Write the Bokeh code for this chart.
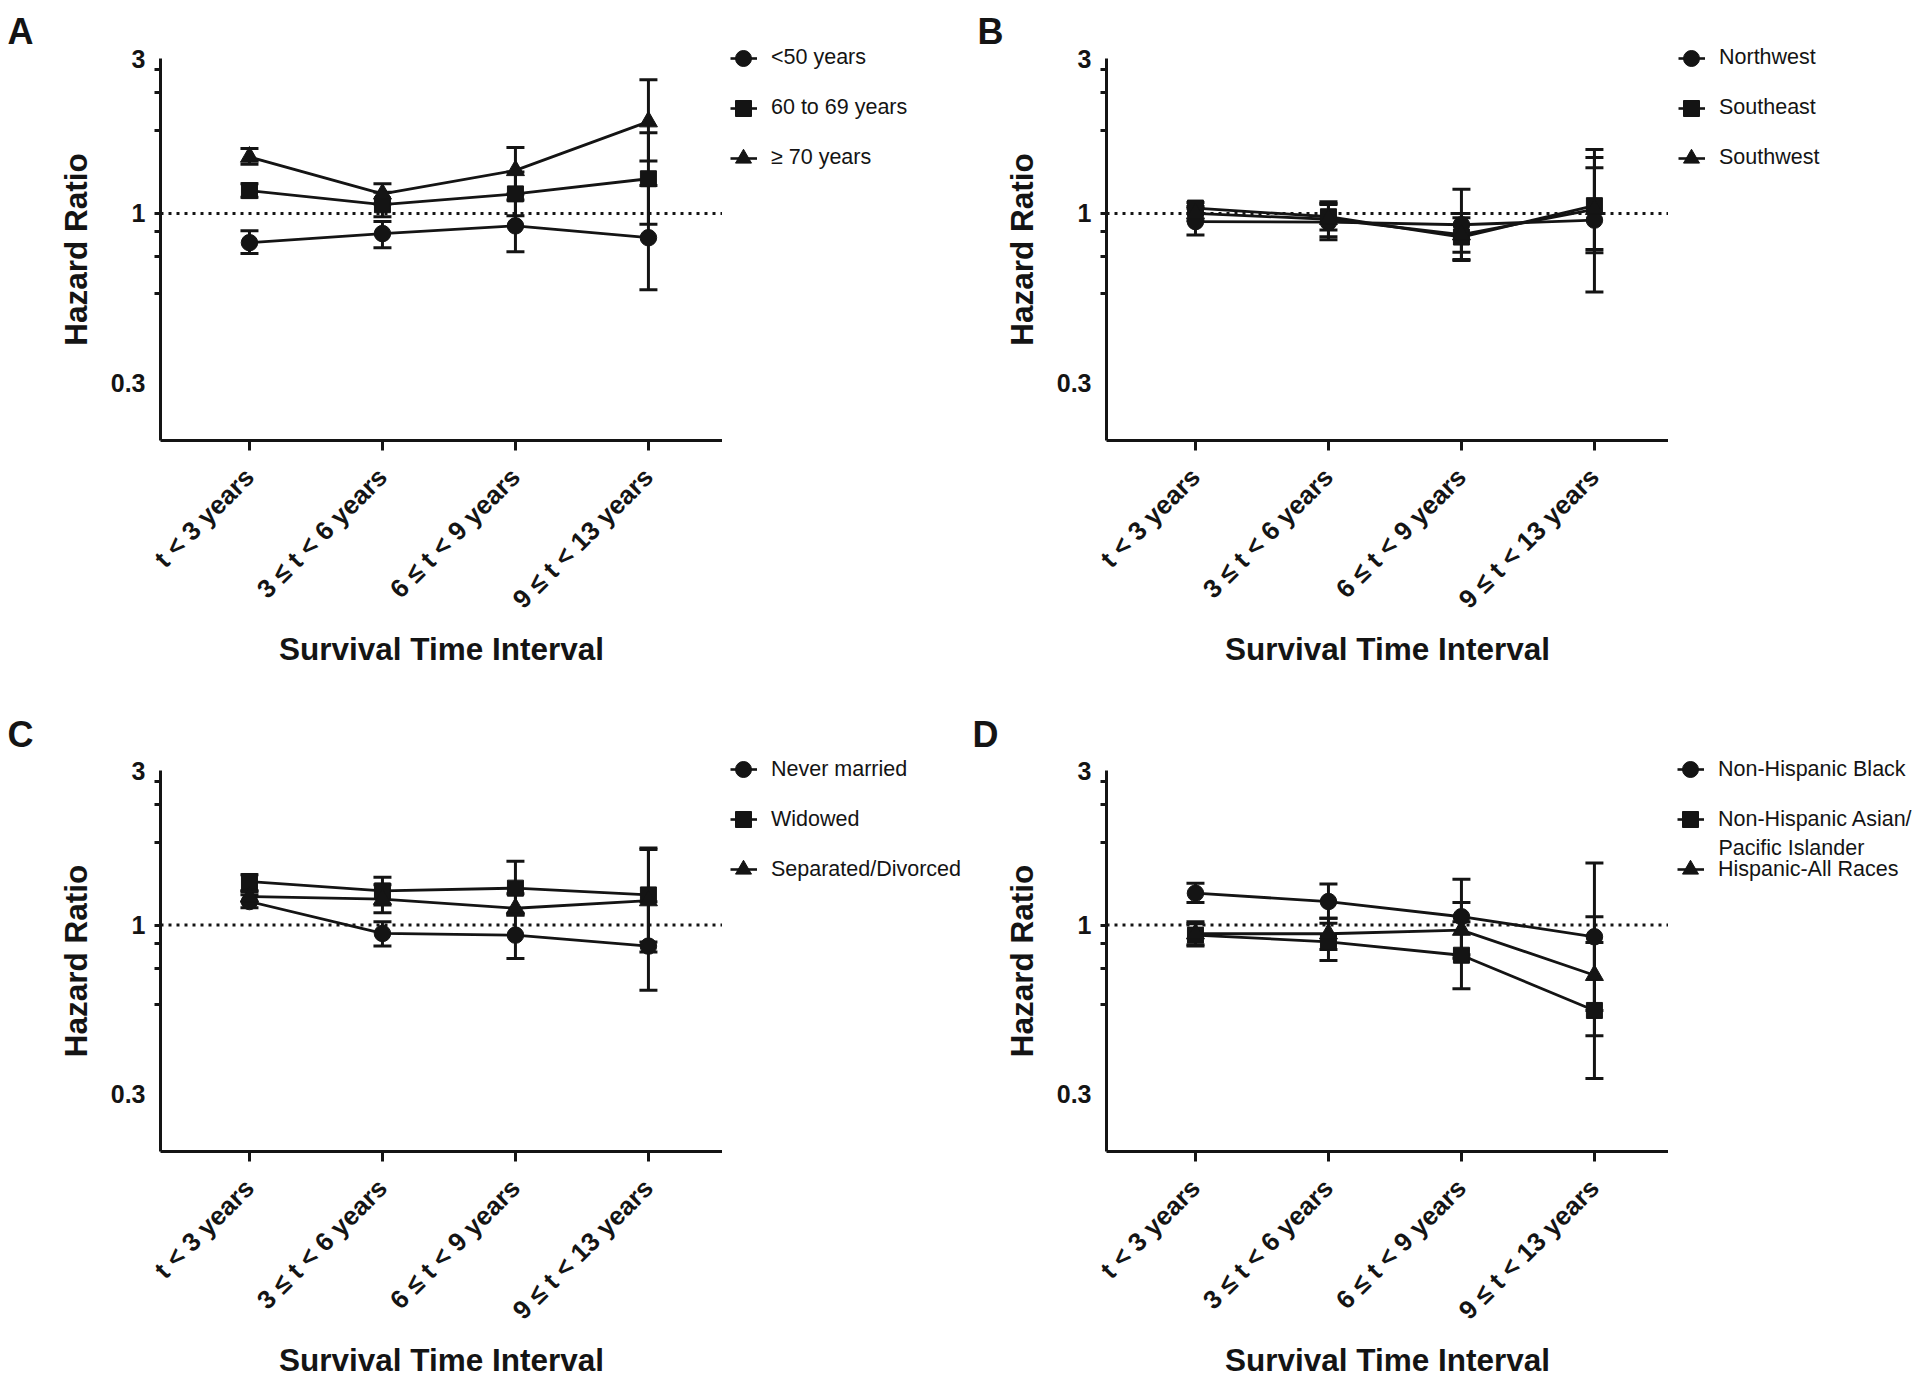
import math
from bokeh.plotting import figure
from bokeh.models import (Range1d, FixedTicker, Whisker, TeeHead, ColumnDataSource,
                          Span, Legend, LegendItem, Label, Title)
from bokeh.layouts import row, column
from bokeh.embed import file_html
from bokeh.resources import INLINE

# ---------------- data ----------------
intervals = ["t < 3 years", "3 \u2264 t < 6 years", "6 \u2264 t < 9 years", "9 \u2264 t < 13 years"]
interval_pos = [1, 2, 3, 4]

y_tick_values = [0.3, 1, 3]
y_tick_labels = ["0.3", "1", "3"]
y_minor_ticks = [0.567, 0.737, 0.88, 1, 1.8, 2.36, 2.78]

# Panel A: age
age_groups = ["<50 years", "60 to 69 years", "\u2265 70 years"]
age_lt50_hr = [0.813, 0.867, 0.916, 0.842]
age_lt50_lo = [0.753, 0.784, 0.762, 0.582]
age_lt50_hi = [0.884, 0.944, 1.100, 1.220]
age_60_69_hr = [1.176, 1.064, 1.149, 1.279]
age_60_69_lo = [1.121, 0.977, 0.984, 0.927]
age_60_69_hi = [1.234, 1.162, 1.341, 1.772]
age_ge70_hr = [1.493, 1.149, 1.357, 1.917]
age_ge70_lo = [1.417, 1.069, 1.149, 1.450]
age_ge70_hi = [1.585, 1.234, 1.596, 2.580]

# Panel B: region
regions = ["Northwest", "Southeast", "Southwest"]
nw_hr = [0.944, 0.940, 0.923, 0.954]
nw_lo = [0.859, 0.830, 0.722, 0.573]
nw_hi = [1.037, 1.065, 1.187, 1.573]
se_hr = [1.039, 0.977, 0.846, 1.057]
se_lo = [1.000, 0.890, 0.716, 0.757]
se_hi = [1.080, 1.074, 1.000, 1.486]
sw_hr = [1.000, 0.960, 0.860, 1.030]
sw_lo = [0.950, 0.848, 0.760, 0.775]
sw_hi = [1.050, 1.087, 0.970, 1.384]

# Panel C: marital status
marital = ["Never married", "Widowed", "Separated/Divorced"]
never_hr = [1.182, 0.942, 0.931, 0.861]
never_lo = [1.130, 0.861, 0.788, 0.629]
never_hi = [1.240, 1.024, 1.087, 1.180]
widow_hr = [1.363, 1.275, 1.300, 1.239]
widow_lo = [1.278, 1.154, 1.074, 0.887]
widow_hi = [1.430, 1.406, 1.573, 1.730]
sepdiv_hr = [1.224, 1.202, 1.127, 1.190]
sepdiv_lo = [1.180, 1.092, 1.074, 0.826]
sepdiv_hi = [1.270, 1.331, 1.250, 1.710]

# Panel D: race / ethnicity
races = ["Non-Hispanic Black", "Non-Hispanic Asian/", "Hispanic-All Races"]
race_second_line = "Pacific Islander"
black_hr = [1.254, 1.182, 1.061, 0.920]
black_lo = [1.173, 1.049, 0.810, 0.545]
black_hi = [1.347, 1.338, 1.386, 1.554]
asian_hr = [0.931, 0.888, 0.807, 0.545]
asian_lo = [0.861, 0.778, 0.636, 0.336]
asian_hi = [1.024, 1.013, 1.024, 0.884]
hisp_hr = [0.940, 0.940, 0.965, 0.700]
hisp_lo = [0.870, 0.840, 0.790, 0.455]
hisp_hi = [1.010, 1.049, 1.173, 1.061]

# ---------------- style ----------------
FONT = "Liberation Sans"
INK = "#141414"
MARKERS = [("circle", 16.5), ("square", 16), ("triangle", 18)]


def legend_fig(names, width, mcx, row1_from_top, extra_line=None, extra_y=None):
    f = figure(width=width, height=690, x_range=Range1d(10, 11), y_range=Range1d(10, 11),
               output_backend="svg", toolbar_location=None, min_border=0,
               x_axis_location=None, y_axis_location=None)
    f.xgrid.visible = False
    f.ygrid.visible = False
    f.outline_line_color = None
    # legend-only renderers (their single point lies outside the visible range)
    lines = [f.line(x=[0, 0.5], y=[0, 0], line_color=INK, line_width=2.6) for _ in names]
    marks = [f.scatter(x=[0], y=[0], marker=mk, size=sz, fill_color=INK, line_color=INK)
             for mk, sz in MARKERS]
    loc_y = 690 - row1_from_top - 120
    common = dict(padding=0, margin=0, spacing=10, glyph_height=40, label_height=40,
                  background_fill_alpha=0, border_line_alpha=0,
                  label_text_font=FONT, label_text_font_size="21.5px",
                  label_text_color=INK)
    f.add_layout(Legend(items=[LegendItem(label=" ", renderers=[r]) for r in lines],
                        location=(mcx - 13.5, loc_y), glyph_width=27, label_standoff=0,
                        **common))
    f.add_layout(Legend(items=[LegendItem(label=n, renderers=[m]) for n, m in zip(names, marks)],
                        location=(mcx - 20, loc_y), glyph_width=40, label_standoff=8,
                        **common))
    if extra_line:
        f.add_layout(Label(x=mcx + 28, y=extra_y, x_units="screen", y_units="screen",
                           text=extra_line, text_font=FONT, text_font_size="21.5px",
                           text_color=INK, text_baseline="middle"))
    return f


def make_panel(letter, series, width, left, top, bottom, letter_offset, letter_standoff,
               xlab_standoff):
    p = figure(width=width, height=690, y_axis_type="log",
               x_range=Range1d(0.331, 4.557), y_range=Range1d(0.2, 3.0),
               output_backend="svg", toolbar_location=None,
               min_border_left=left, min_border_right=0,
               min_border_top=top, min_border_bottom=bottom)
    p.xgrid.visible = False
    p.ygrid.visible = False
    p.outline_line_color = None

    p.title = Title(text=letter, align="left", offset=letter_offset,
                    standoff=letter_standoff, text_font=FONT, text_font_size="36px",
                    text_font_style="bold", text_color=INK)

    p.add_layout(Span(location=1.0, dimension="width", line_color=INK,
                      line_width=3, line_dash="3 5", level="underlay"))

    srcs = []
    for (hr, lo, hi) in series:
        src = ColumnDataSource(dict(x=interval_pos, hr=hr, lo=lo, hi=hi))
        p.add_layout(Whisker(source=src, base="x", upper="hi", lower="lo",
                             line_color=INK, line_width=3,
                             upper_head=TeeHead(size=18, line_color=INK, line_width=3),
                             lower_head=TeeHead(size=18, line_color=INK, line_width=3)))
        p.line("x", "hr", source=src, line_color=INK, line_width=2.8)
        srcs.append(src)
    for src, (mk, sz) in zip(srcs, MARKERS):
        p.scatter("x", "hr", source=src, marker=mk, size=sz,
                  fill_color=INK, line_color=INK)

    # x axis
    xa = p.xaxis[0]
    xa.ticker = FixedTicker(ticks=interval_pos)
    xa.major_label_overrides = {x: lab for x, lab in zip(interval_pos, intervals)}
    xa.major_label_orientation = math.pi / 4
    xa.major_label_text_font = FONT
    xa.major_label_text_font_size = "26px"
    xa.major_label_text_font_style = "bold"
    xa.major_label_text_color = INK
    xa.major_label_standoff = 22
    xa.major_tick_in = 0
    xa.major_tick_out = 10
    xa.major_tick_line_width = 3
    xa.major_tick_line_color = INK
    xa.minor_tick_line_color = None
    xa.axis_line_width = 3
    xa.axis_line_color = INK
    xa.axis_label = "Survival Time Interval"
    xa.axis_label_text_font = FONT
    xa.axis_label_text_font_size = "31.5px"
    xa.axis_label_text_font_style = "bold"
    xa.axis_label_text_color = INK
    xa.axis_label_standoff = xlab_standoff

    # y axis
    ya = p.yaxis[0]
    ya.ticker = FixedTicker(ticks=y_tick_values, minor_ticks=y_minor_ticks)
    ya.major_label_overrides = {v: t for v, t in zip(y_tick_values, y_tick_labels)}
    ya.major_label_text_font = FONT
    ya.major_label_text_font_size = "25px"
    ya.major_label_text_font_style = "bold"
    ya.major_label_text_color = INK
    ya.major_label_standoff = 9
    ya.major_tick_in = 0
    ya.major_tick_out = 0
    ya.minor_tick_in = 0
    ya.minor_tick_out = 6
    ya.minor_tick_line_width = 3
    ya.minor_tick_line_color = INK
    ya.axis_line_width = 3
    ya.axis_line_color = INK
    ya.axis_label = "Hazard Ratio"
    ya.axis_label_text_font = FONT
    ya.axis_label_text_font_size = "31.5px"
    ya.axis_label_text_font_style = "bold"
    ya.axis_label_text_color = INK
    ya.axis_label_standoff = 14
    return p


pA = make_panel("A", [(age_lt50_hr, age_lt50_lo, age_lt50_hi),
                      (age_60_69_hr, age_60_69_lo, age_60_69_hi),
                      (age_ge70_hr, age_ge70_lo, age_ge70_hi)],
                722, 160, 58, 250, -153, 14, 3)
pB = make_panel("B", [(nw_hr, nw_lo, nw_hi), (se_hr, se_lo, se_hi), (sw_hr, sw_lo, sw_hi)],
                700, 138, 58, 250, -129, 14, 3)
pC = make_panel("C", [(never_hr, never_lo, never_hi), (widow_hr, widow_lo, widow_hi),
                      (sepdiv_hr, sepdiv_lo, sepdiv_hi)],
                722, 160, 80, 228, -153, 31, 3)
pD = make_panel("D", [(black_hr, black_lo, black_hi), (asian_hr, asian_lo, asian_hi),
                      (hisp_hr, hisp_lo, hisp_hi)],
                700, 138, 80, 228, -134, 31, 3)

lA = legend_fig(age_groups, 246, 21, 57.5)
lB = legend_fig(regions, 252, 23, 57.5)
lC = legend_fig(marital, 246, 21, 79)
lD = legend_fig(races, 252, 22, 79, extra_line=race_second_line, extra_y=533)

layout = column(
    row(column(pA), lA, column(pB), lB),
    row(column(pC), lC, column(pD), lD),
)

open("out.html", "w").write(file_html(layout, INLINE))
